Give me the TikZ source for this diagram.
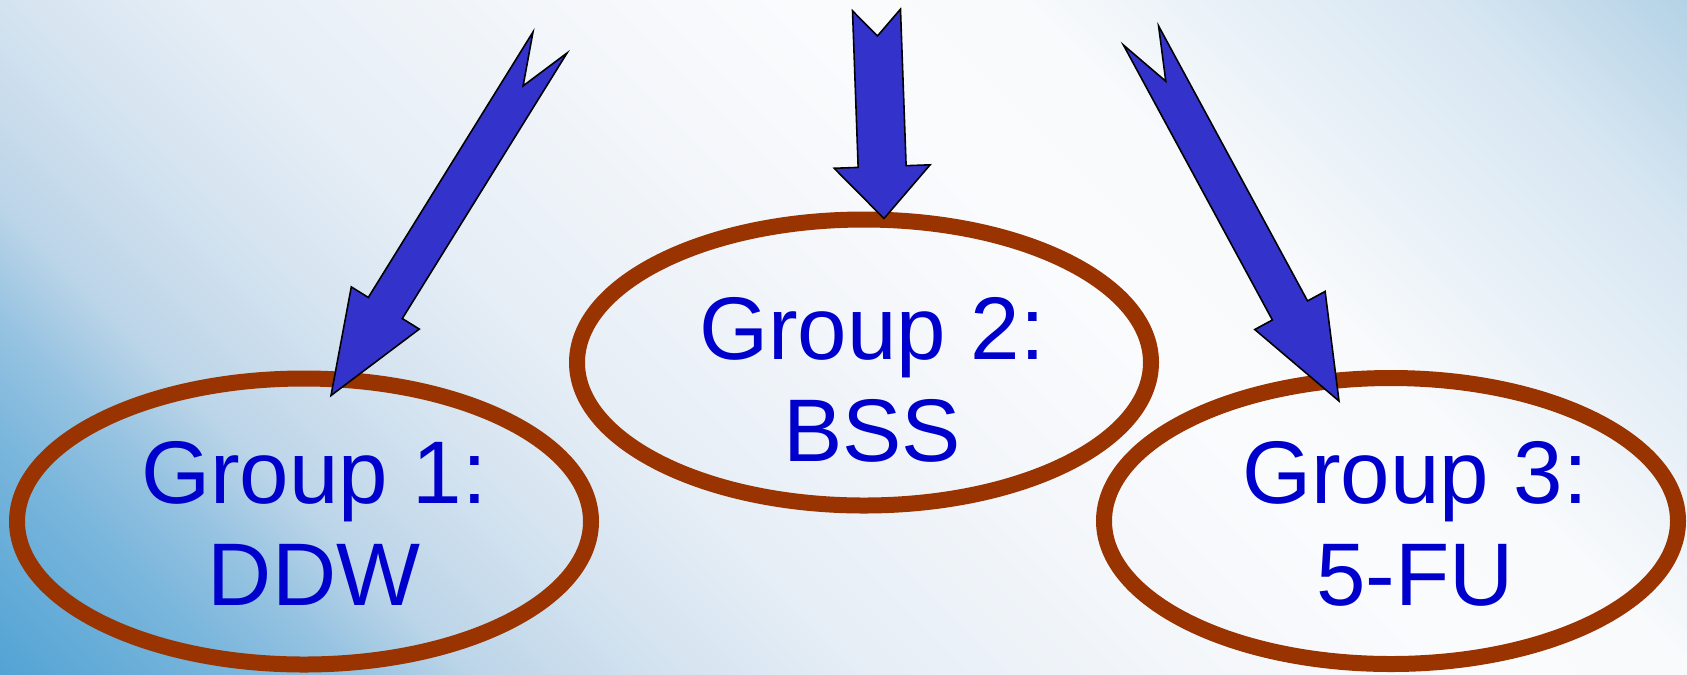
\documentclass[tikz,border=0pt]{standalone}
\usepackage{fontspec}
\setmainfont{Liberation Sans}
\usetikzlibrary{calc, positioning, shapes.geometric}
\definecolor{ringbrown}{HTML}{993300}
\definecolor{arrowblue}{HTML}{3333CC}
\definecolor{textblue}{HTML}{0000CC}
\definecolor{sky0}{RGB}{82,163,212}
\definecolor{sky1}{RGB}{122,182,220}
\definecolor{sky2}{RGB}{150,195,225}
\definecolor{sky3}{RGB}{188,213,232}
\definecolor{sky4}{RGB}{212,227,240}
\definecolor{sky5}{RGB}{230,238,246}
\definecolor{sky6}{RGB}{243,246,250}
\definecolor{sky7}{RGB}{250,251,253}
\definecolor{sky8}{RGB}{248,250,252}
\definecolor{sky9}{RGB}{215,230,242}
\definecolor{sky10}{RGB}{180,210,230}
\pgfdeclareverticalshading{skyfade}{100bp}{color(0bp)=(sky0); color(14.45bp)=(sky0);
  color(21.56bp)=(sky1); color(25.1bp)=(sky2); color(28.7bp)=(sky3); color(34.7bp)=(sky4);
  color(40.8bp)=(sky5); color(50bp)=(sky6); color(58.5bp)=(sky7); color(65.6bp)=(sky8);
  color(78.4bp)=(sky9); color(85.55bp)=(sky10); color(100bp)=(sky10)}
\tikzset{
    every node/.style={font=\fontsize{25.3}{29}\selectfont},
    grpring/.style={draw=ringbrown, line width=1.6mm, ellipse, minimum width=57.4mm, minimum height=28.6mm, inner sep=0pt},
    grptext/.style={text=textblue, align=center, inner sep=0pt},
    blockarrow/.style={fill=arrowblue, draw=black, line width=0.45pt, line join=miter},
}
% notched block arrow: tail, tip, half shaft, half head, head length, notch depth
\newcommand\notcharrow[6]{%
  \draw[blockarrow] (#2)
    -- ($(#2)!#5!(#1)!#4!90:(#1)$)
    -- ($(#2)!#5!(#1)!#3!90:(#1)$)
    -- ($(#1)!#3!-90:(#2)$)
    -- ($(#1)!#6!(#2)$)
    -- ($(#1)!#3!90:(#2)$)
    -- ($(#2)!#5!(#1)!#3!-90:(#1)$)
    -- ($(#2)!#5!(#1)!#4!-90:(#1)$)
    -- cycle;
}

\begin{document}
\begin{tikzpicture}[x=0.1mm, y=-0.1mm]
\shade[shading=skyfade, shading angle=-45] (0,0) rectangle (1687,674);
\useasboundingbox (0,0) rectangle (1687,674);
% the three groups
\node[grpring] (grp1) at (304,521.5) {};
\node[grpring] (grp2) at (864,362.5) {};
\node[grpring] (grp3) at (1391,521) {};
\node[grptext] (lbl1) at ($(grp1.center)+(10,2)$) {Group 1:\\DDW};
\node[grptext] (lbl2) at ($(grp2.center)+(8,17)$) {Group 2:\\BSS};
\node[grptext] (lbl3) at ($(grp3.center)+(24,3)$) {Group 3:\\5-FU};
% arrows coming in from the top
\coordinate (tail1) at (550,42.5);
\coordinate (tail2) at (876.5,10);
\coordinate (tail3) at (1141,35.5);
\coordinate (tip1) at ($(grp1.center)+(27,-126)$);
\coordinate (tip2) at ($(grp2.center)+(20,-144)$);
\coordinate (tip3) at ($(grp3.center)+(-52,-120)$);
\notcharrow{tail1}{tip1}{2mm}{4mm}{10.3mm}{5.1mm}
\notcharrow{tail2}{tip2}{2.4mm}{4.8mm}{5.2mm}{2.6mm}
\notcharrow{tail3}{tip3}{2mm}{4mm}{10.3mm}{5.2mm}
\end{tikzpicture}
\end{document}
